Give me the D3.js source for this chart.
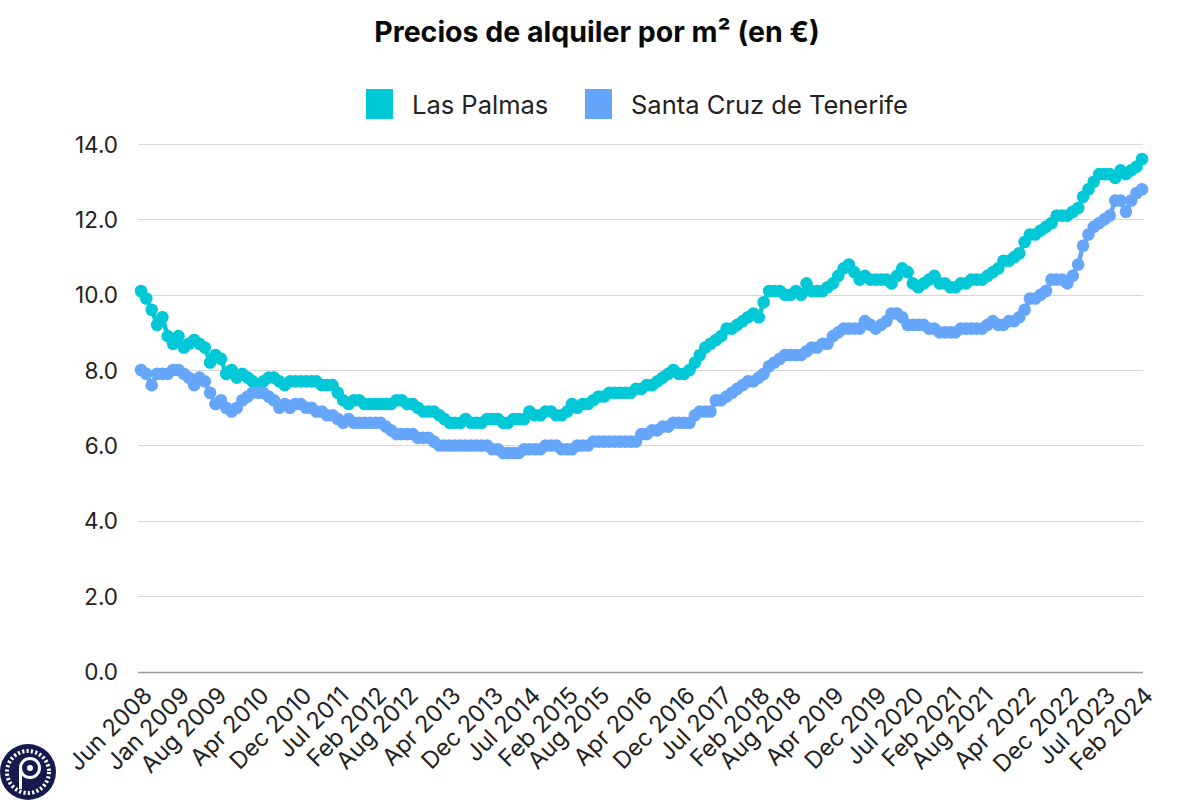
<!DOCTYPE html>
<html>
<head>
<meta charset="utf-8">
<script src="https://cdn.jsdelivr.net/npm/d3@7"></script>
<style>
  html, body { margin: 0; padding: 0; background: #fff; }
  svg { display: block; font-family: Inter, "Noto Sans", sans-serif; }
</style>
</head>
<body>
<svg id="chart" width="1200" height="801"></svg>
<script>
// ---- DATA ----
const firstMonth = "2008-06-01";
const lastMonth = "2024-02-01";
const months = d3.utcMonths(new Date(firstMonth), d3.utcMonth.offset(new Date(lastMonth), 1));

const lasPalmas = [
  10.1, 9.9, 9.6, 9.2, 9.4, 8.9, 8.7, 8.9, 8.6, 8.7,
  8.8, 8.7, 8.6, 8.2, 8.4, 8.3, 7.9, 8.0, 7.8, 7.9,
  7.8, 7.7, 7.6, 7.7, 7.8, 7.8, 7.7, 7.6, 7.7, 7.7,
  7.7, 7.7, 7.7, 7.7, 7.6, 7.6, 7.6, 7.4, 7.2, 7.1,
  7.2, 7.2, 7.1, 7.1, 7.1, 7.1, 7.1, 7.1, 7.2, 7.2,
  7.1, 7.1, 7.0, 6.9, 6.9, 6.9, 6.8, 6.7, 6.6, 6.6,
  6.6, 6.7, 6.6, 6.6, 6.6, 6.7, 6.7, 6.7, 6.6, 6.6,
  6.7, 6.7, 6.7, 6.9, 6.8, 6.8, 6.9, 6.9, 6.8, 6.8,
  6.9, 7.1, 7.0, 7.1, 7.1, 7.2, 7.3, 7.3, 7.4, 7.4,
  7.4, 7.4, 7.4, 7.5, 7.5, 7.6, 7.6, 7.7, 7.8, 7.9,
  8.0, 7.9, 7.9, 8.0, 8.2, 8.4, 8.6, 8.7, 8.8, 8.9,
  9.1, 9.1, 9.2, 9.3, 9.4, 9.5, 9.4, 9.8, 10.1, 10.1,
  10.1, 10.0, 10.0, 10.1, 10.0, 10.3, 10.1, 10.1, 10.1, 10.2,
  10.3, 10.5, 10.7, 10.8, 10.6, 10.4, 10.5, 10.4, 10.4, 10.4,
  10.4, 10.3, 10.5, 10.7, 10.6, 10.3, 10.2, 10.3, 10.4, 10.5,
  10.3, 10.3, 10.2, 10.2, 10.3, 10.3, 10.4, 10.4, 10.4, 10.5,
  10.6, 10.7, 10.9, 10.9, 11.0, 11.1, 11.4, 11.6, 11.6, 11.7,
  11.8, 11.9, 12.1, 12.1, 12.1, 12.2, 12.3, 12.6, 12.8, 13.0,
  13.2, 13.2, 13.2, 13.1, 13.3, 13.2, 13.3, 13.4, 13.6
];

const santaCruz = [
  8.0, 7.9, 7.6, 7.9, 7.9, 7.9, 8.0, 8.0, 7.9, 7.8,
  7.6, 7.8, 7.7, 7.4, 7.1, 7.2, 7.0, 6.9, 7.0, 7.2,
  7.3, 7.4, 7.4, 7.4, 7.3, 7.2, 7.0, 7.1, 7.0, 7.1,
  7.1, 7.0, 7.0, 6.9, 6.9, 6.8, 6.8, 6.7, 6.6, 6.7,
  6.6, 6.6, 6.6, 6.6, 6.6, 6.6, 6.5, 6.4, 6.3, 6.3,
  6.3, 6.3, 6.2, 6.2, 6.2, 6.1, 6.0, 6.0, 6.0, 6.0,
  6.0, 6.0, 6.0, 6.0, 6.0, 6.0, 5.9, 5.9, 5.8, 5.8,
  5.8, 5.8, 5.9, 5.9, 5.9, 5.9, 6.0, 6.0, 6.0, 5.9,
  5.9, 5.9, 6.0, 6.0, 6.0, 6.1, 6.1, 6.1, 6.1, 6.1,
  6.1, 6.1, 6.1, 6.1, 6.3, 6.3, 6.4, 6.4, 6.5, 6.5,
  6.6, 6.6, 6.6, 6.6, 6.8, 6.9, 6.9, 6.9, 7.2, 7.2,
  7.3, 7.4, 7.5, 7.6, 7.7, 7.7, 7.8, 7.9, 8.1, 8.2,
  8.3, 8.4, 8.4, 8.4, 8.4, 8.5, 8.6, 8.6, 8.7, 8.7,
  8.9, 9.0, 9.1, 9.1, 9.1, 9.1, 9.3, 9.2, 9.1, 9.2,
  9.3, 9.5, 9.5, 9.4, 9.2, 9.2, 9.2, 9.2, 9.1, 9.1,
  9.0, 9.0, 9.0, 9.0, 9.1, 9.1, 9.1, 9.1, 9.1, 9.2,
  9.3, 9.2, 9.2, 9.3, 9.3, 9.4, 9.6, 9.9, 9.9, 10.0,
  10.1, 10.4, 10.4, 10.4, 10.3, 10.5, 10.8, 11.3, 11.6, 11.8,
  11.9, 12.0, 12.1, 12.5, 12.5, 12.2, 12.5, 12.7, 12.8
];

const seriesNames = ["Las Palmas", "Santa Cruz de Tenerife"];
const seriesColors = ["#00C8D7", "#66A6FA"];

const tickLabels = [
  "Jun 2008", "Jan 2009", "Aug 2009", "Apr 2010", "Dec 2010", "Jul 2011",
  "Feb 2012", "Aug 2012", "Apr 2013", "Dec 2013", "Jul 2014", "Feb 2015",
  "Aug 2015", "Apr 2016", "Dec 2016", "Jul 2017", "Feb 2018", "Aug 2018",
  "Apr 2019", "Dec 2019", "Jul 2020", "Feb 2021", "Aug 2021", "Apr 2022",
  "Dec 2022", "Jul 2023", "Feb 2024"
];
const yTicks = [0, 2, 4, 6, 8, 10, 12, 14];
const titleText = "Precios de alquiler por m² (en €)";

// ---- CHART ----
const svg = d3.select("#chart");
const margin = { left: 141, right: 1142, top: 144, bottom: 671.5 };

const parseLabel = d3.utcParse("%b %Y");
const x = d3.scaleUtc()
  .domain([months[0], months[months.length - 1]])
  .range([margin.left, margin.right]);
const y = d3.scaleLinear().domain([0, 14]).range([margin.bottom, margin.top]);

// gridlines
svg.append("g").selectAll("line")
  .data(yTicks)
  .join("line")
  .attr("x1", 138).attr("x2", 1143)
  .attr("y1", d => Math.round(y(d)) + 0.5).attr("y2", d => Math.round(y(d)) + 0.5)
  .attr("stroke", d => d === 0 ? "#9a9a9a" : "#d8d8d8")
  .attr("stroke-width", d => d === 0 ? 1.5 : 1.2);

// y axis labels
const yAxis = d3.axisLeft(y).tickValues(yTicks).tickFormat(d3.format(".1f")).tickSize(0).tickPadding(0);
const yG = svg.append("g").attr("transform", "translate(118,0)").call(yAxis);
yG.select(".domain").remove();
yG.selectAll("text")
  .attr("font-size", 22.5).attr("fill", "#222").attr("font-family", "Inter, sans-serif")
  .attr("dy", "0.36em");

// x axis labels
const xAxis = d3.axisBottom(x)
  .tickValues(tickLabels.map(parseLabel))
  .tickFormat(d3.utcFormat("%b %Y"))
  .tickSize(0).tickPadding(0);
const xG = svg.append("g").attr("transform", "translate(0,685)").call(xAxis);
xG.select(".domain").remove();
xG.selectAll("text")
  .attr("font-size", 23.5).attr("fill", "#222").attr("font-family", "Inter, sans-serif")
  .attr("text-anchor", "end")
  .attr("dy", "0.72em")
  .attr("transform", "translate(0,0) rotate(-45)");

// series
const seriesData = [lasPalmas, santaCruz];
const line = d3.line().x((d, i) => x(months[i])).y(d => y(d));
seriesData.forEach((vals, si) => {
  const g = svg.append("g");
  g.append("path")
    .datum(vals)
    .attr("d", line)
    .attr("fill", "none")
    .attr("stroke", seriesColors[si])
    .attr("stroke-width", 4.5);
  g.selectAll("circle")
    .data(vals)
    .join("circle")
    .attr("cx", (d, i) => x(months[i]))
    .attr("cy", d => y(d))
    .attr("r", 6.3)
    .attr("fill", seriesColors[si]);
});

// title
svg.append("text")
  .attr("x", 597).attr("y", 42)
  .attr("text-anchor", "middle")
  .attr("font-size", 28.5).attr("font-weight", 700).attr("fill", "#0a0a0a")
  .attr("font-family", "Inter, sans-serif")
  .text(titleText);

// legend
const legendX = [366, 585];
seriesNames.forEach((name, i) => {
  svg.append("rect")
    .attr("x", legendX[i]).attr("y", 89).attr("width", 27).attr("height", 30)
    .attr("fill", seriesColors[i]);
  svg.append("text")
    .attr("x", legendX[i] + 46).attr("y", 114)
    .attr("font-size", 25.5).attr("fill", "#222")
    .attr("font-family", "Inter, sans-serif")
    .text(name);
});

// logo (bottom-left)
const logo = svg.append("g").attr("transform", "translate(28,772)");
logo.append("circle").attr("r", 28).attr("fill", "#141a4d");
logo.append("circle").attr("r", 21).attr("fill", "none")
  .attr("stroke", "#fff").attr("stroke-width", 4).attr("stroke-dasharray", "2.2 2.2");
logo.append("circle").attr("r", 17).attr("fill", "#141a4d");
logo.append("circle").attr("cx", 2).attr("cy", -4).attr("r", 9.5)
  .attr("fill", "none").attr("stroke", "#fff").attr("stroke-width", 3);
logo.append("circle").attr("cx", 2).attr("cy", -4).attr("r", 3).attr("fill", "#fff");
logo.append("path")
  .attr("d", "M -7.5 -4 L -7.5 17")
  .attr("stroke", "#fff").attr("stroke-width", 3).attr("fill", "none");
</script>
</body>
</html>
